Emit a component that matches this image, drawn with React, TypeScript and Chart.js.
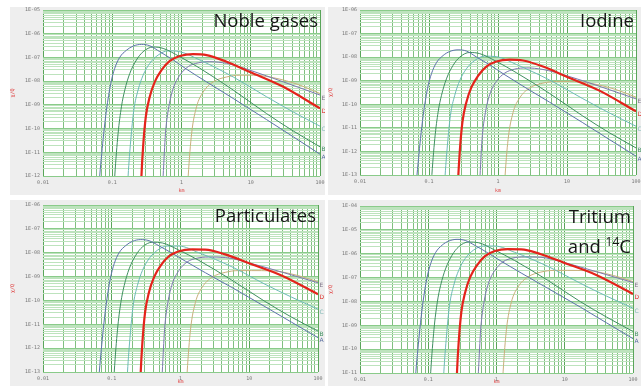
import { useEffect, useRef } from 'react';
import { Chart, registerables } from 'chart.js';

Chart.register(...registerables);

// ---- axis ticks ----
const xDecades = [0.01, 0.1, 1, 10, 100];
const xDecadeLabels = ['0.01', '0.1', '1', '10', '100'];

const nobleDecades = [1e-12, 1e-11, 1e-10, 1e-9, 1e-8, 1e-7, 1e-6, 1e-5];
const nobleDecadeLabels = ['1E-12', '1E-11', '1E-10', '1E-09', '1E-08', '1E-07', '1E-06', '1E-05'];
const iodineDecades = [1e-13, 1e-12, 1e-11, 1e-10, 1e-9, 1e-8, 1e-7, 1e-6];
const iodineDecadeLabels = ['1E-13', '1E-12', '1E-11', '1E-10', '1E-09', '1E-08', '1E-07', '1E-06'];
const partDecades = [1e-13, 1e-12, 1e-11, 1e-10, 1e-9, 1e-8, 1e-7, 1e-6];
const partDecadeLabels = ['1E-13', '1E-12', '1E-11', '1E-10', '1E-09', '1E-08', '1E-07', '1E-06'];
const tritDecades = [1e-11, 1e-10, 1e-9, 1e-8, 1e-7, 1e-6, 1e-5, 1e-4];
const tritDecadeLabels = ['1E-11', '1E-10', '1E-09', '1E-08', '1E-07', '1E-06', '1E-05', '1E-04'];

// ---- stability classes ----
const classNames = ['A', 'B', 'C', 'D', 'E', 'F'];
const labelShown = [true, true, true, true, true, false];

// distances (km) for each class curve
const xA = [0.0625, 0.0659, 0.0705, 0.0753, 0.0824, 0.0951, 0.1087, 0.128, 0.16, 0.2, 0.264, 0.348, 0.486, 0.758, 1.18, 2.3, 5.58, 16.9, 41.1, 100];
const xB = [0.104, 0.1087, 0.1214, 0.1357, 0.1517, 0.179, 0.2234, 0.279, 0.389, 0.543, 0.947, 1.84, 5.58, 16.9, 41.1, 100];
const xC = [0.163, 0.1694, 0.185, 0.2046, 0.236, 0.279, 0.348, 0.46, 0.641, 0.947, 1.84, 5.58, 16.9, 41.1, 100];
const xD = [0.257, 0.264, 0.279, 0.305, 0.348, 0.411, 0.514, 0.678, 0.947, 1.47, 2.3, 4.48, 9.73, 29.5, 100];
const xE = [0.52, 0.543, 0.587, 0.656, 0.758, 0.947, 1.25, 1.74, 2.57, 4.48, 9.73, 29.5, 100];
const xF = [1.2, 1.25, 1.4, 1.65, 2.06, 2.87, 4.48, 6.97, 10.9, 21.1, 51.4, 100];

// Noble gases
const nobleA = [1e-13, 1e-12, 8.7e-12, 6.2e-11, 5.9e-10, 7.9e-9, 3.5e-8, 1e-7, 2.0e-7, 3.0e-7, 3.55e-7, 3.1e-7, 1.74e-7, 7.8e-8, 3.2e-8, 9.3e-9, 1.86e-9, 2.4e-10, 4.5e-11, 8.3e-12];
const nobleB = [1e-13, 1e-12, 6.2e-11, 8.3e-10, 4.2e-9, 2.1e-8, 7.8e-8, 1.74e-7, 2.75e-7, 2.4e-7, 1.07e-7, 3.5e-8, 4.2e-9, 4.3e-10, 7.9e-11, 1.7e-11];
const nobleC = [1e-13, 1e-12, 3.2e-11, 5.9e-10, 4.2e-9, 1.78e-8, 5.6e-8, 1.26e-7, 1.9e-7, 1.74e-7, 7.8e-8, 1.5e-8, 2.2e-9, 5.0e-10, 1.26e-10];
const nobleD = [1e-13, 1e-12, 1.7e-11, 3.1e-10, 2.2e-9, 9.3e-9, 2.9e-8, 7.1e-8, 1.15e-7, 1.38e-7, 1.26e-7, 6.6e-8, 2.45e-8, 5.8e-9, 7.1e-10];
const nobleE = [1e-13, 1e-12, 6.2e-11, 8.3e-10, 4.9e-9, 1.78e-8, 4.1e-8, 5.9e-8, 6.6e-8, 5.6e-8, 2.9e-8, 9.3e-9, 2.6e-9];
const nobleF = [1e-13, 1e-12, 6.2e-11, 8.3e-10, 3.5e-9, 9.3e-9, 1.5e-8, 1.78e-8, 1.78e-8, 1.4e-8, 6.8e-9, 3.0e-9];

// Iodine
const iodineA = [1e-14, 5.8e-14, 5.0e-13, 3.5e-12, 3.4e-11, 4.6e-10, 2.0e-9, 5.8e-9, 1.17e-8, 1.74e-8, 2.04e-8, 1.82e-8, 1.02e-8, 4.7e-9, 2.0e-9, 5.9e-10, 1.23e-10, 1.66e-11, 3.2e-12, 6.3e-13];
const iodineB = [5.8e-15, 5.8e-14, 3.5e-12, 4.8e-11, 2.4e-10, 1.2e-9, 4.5e-9, 1e-8, 1.58e-8, 1.41e-8, 6.6e-9, 2.2e-9, 2.9e-10, 3.2e-11, 6.2e-12, 1.41e-12];
const iodineC = [5.8e-15, 5.8e-14, 1.86e-12, 3.4e-11, 2.4e-10, 1.02e-9, 3.2e-9, 7.2e-9, 1.1e-8, 1.05e-8, 4.9e-9, 1.07e-9, 1.74e-10, 4.3e-11, 1.17e-11];
const iodineD = [5.6e-15, 5.6e-14, 9.5e-13, 1.74e-11, 1.23e-10, 5.2e-10, 1.62e-9, 4.0e-9, 6.5e-9, 7.8e-9, 7.2e-9, 4.0e-9, 1.51e-9, 3.8e-10, 5.0e-11];
const iodineE = [5.2e-15, 5.2e-14, 3.2e-12, 4.4e-11, 2.57e-10, 9.3e-10, 2.1e-9, 3.1e-9, 3.5e-9, 3.0e-9, 1.66e-9, 5.8e-10, 1.7e-10];
const iodineF = [5.2e-15, 5.2e-14, 3.2e-12, 4.4e-11, 1.86e-10, 4.9e-10, 7.9e-10, 9.3e-10, 9.3e-10, 7.9e-10, 4.2e-10, 2.0e-10];

// Particulates
const partA = [1e-14, 1e-13, 8.7e-13, 6.2e-12, 5.9e-11, 7.9e-10, 3.5e-9, 1e-8, 2.0e-8, 3.0e-8, 3.55e-8, 3.2e-8, 1.95e-8, 9.5e-9, 4.4e-9, 1.45e-9, 3.5e-10, 5.5e-11, 1.23e-11, 2.75e-12];
const partB = [1e-14, 1e-13, 6.2e-12, 8.3e-11, 4.2e-10, 2.1e-9, 7.8e-9, 1.74e-8, 2.75e-8, 2.57e-8, 1.29e-8, 4.8e-9, 7.1e-10, 9.1e-11, 2.0e-11, 5.2e-12];
const partC = [1e-14, 1e-13, 3.2e-12, 5.9e-11, 4.2e-10, 1.78e-9, 5.6e-9, 1.26e-8, 1.9e-8, 1.9e-8, 1.0e-8, 2.57e-9, 4.8e-10, 1.38e-10, 4.3e-11];
const partD = [1e-14, 1e-13, 1.7e-12, 3.1e-11, 2.2e-10, 9.3e-10, 2.9e-9, 7.1e-9, 1.15e-8, 1.38e-8, 1.36e-8, 8.5e-9, 3.7e-9, 1.12e-9, 1.82e-10];
const partE = [1e-14, 1e-13, 6.2e-12, 8.3e-11, 4.9e-10, 1.78e-9, 4.1e-9, 5.9e-9, 6.6e-9, 6.3e-9, 3.8e-9, 1.55e-9, 5.5e-10];
const partF = [1e-14, 1e-13, 6.2e-12, 8.3e-11, 3.5e-10, 9.3e-10, 1.5e-9, 1.78e-9, 1.78e-9, 1.74e-9, 1.1e-9, 6.0e-10];

// Tritium and 14C
const tritA = [1.12e-12, 1.12e-11, 9.8e-11, 6.9e-10, 6.6e-9, 8.9e-8, 3.9e-7, 1.12e-6, 2.3e-6, 3.4e-6, 4.0e-6, 3.6e-6, 2.2e-6, 1.05e-6, 4.8e-7, 1.55e-7, 3.6e-8, 5.8e-9, 1.26e-9, 2.75e-10];
const tritB = [1.12e-12, 1.12e-11, 6.9e-10, 9.3e-9, 4.7e-8, 2.3e-7, 8.7e-7, 1.95e-6, 3.1e-6, 2.9e-6, 1.41e-6, 5.2e-7, 7.8e-8, 9.8e-9, 2.2e-9, 5.5e-10];
const tritC = [1.12e-12, 1.12e-11, 3.6e-10, 6.6e-9, 4.7e-8, 2.0e-7, 6.3e-7, 1.41e-6, 2.1e-6, 2.1e-6, 1.15e-6, 3.0e-7, 5.8e-8, 1.66e-8, 5.2e-9];
const tritD = [1.12e-12, 1.12e-11, 1.9e-10, 3.5e-9, 2.45e-8, 1.05e-7, 3.2e-7, 7.9e-7, 1.29e-6, 1.55e-6, 1.53e-6, 9.5e-7, 4.2e-7, 1.26e-7, 2.04e-8];
const tritE = [1.12e-12, 1.12e-11, 6.9e-10, 9.3e-9, 5.5e-8, 2.0e-7, 4.6e-7, 6.6e-7, 7.4e-7, 7.1e-7, 4.3e-7, 1.74e-7, 6.2e-8];
const tritF = [1.12e-12, 1.12e-11, 6.9e-10, 9.3e-9, 4.0e-8, 1.05e-7, 1.7e-7, 2.0e-7, 2.0e-7, 1.95e-7, 1.23e-7, 6.8e-8];

const xSeries = [xA, xB, xC, xD, xE, xF];

// ---- styles ----
const lineColors = ['#5d72aa', '#3f8f60', '#6cbab6', '#e4231b', '#7c78ae', '#c9b07c'];
const letterColors = ['#5a6ea0', '#3f8f5f', '#7fb8b5', '#e0302a', '#7f7488', '#c9b07c'];
const panelBg = '#eeeeee';
const vMajor = '#5aa55a';
const vMinor = '#80bf80';
const hMajor = '#8acb8a';
const hMinor = '#bde3bd';
const tickFont = 'DejaVu Sans Mono';
const titleFamily = "'Open Sans', 'Noto Sans', sans-serif";

type Seg = { t: string; sup?: boolean };
type PanelCfg = {
  left: number; top: number; width: number; height: number;
  area: { l: number; t: number; r: number; b: number };
  decades: number[]; decadeLabels: string[];
  series: number[][];
  title: Seg[][];
  yTitle: string;
};

const panels: PanelCfg[] = [
  {
    left: 10, top: 7, width: 315, height: 188,
    area: { l: 33, t: 3, r: 310, b: 169 },
    decades: nobleDecades, decadeLabels: nobleDecadeLabels,
    series: [nobleA, nobleB, nobleC, nobleD, nobleE, nobleF],
    title: [[{ t: 'Noble gases' }]],
    yTitle: 'χ/Q',
  },
  {
    left: 328, top: 7, width: 313, height: 188,
    area: { l: 32, t: 3, r: 308, b: 168 },
    decades: iodineDecades, decadeLabels: iodineDecadeLabels,
    series: [iodineA, iodineB, iodineC, iodineD, iodineE, iodineF],
    title: [[{ t: 'Iodine' }]],
    yTitle: 'χ/Q',
  },
  {
    left: 10, top: 200, width: 315, height: 186,
    area: { l: 33, t: 5, r: 308, b: 172 },
    decades: partDecades, decadeLabels: partDecadeLabels,
    series: [partA, partB, partC, partD, partE, partF],
    title: [[{ t: 'Particulates' }]],
    yTitle: 'χ/Q',
  },
  {
    left: 328, top: 200, width: 313, height: 186,
    area: { l: 32, t: 6, r: 305, b: 173 },
    decades: tritDecades, decadeLabels: tritDecadeLabels,
    series: [tritA, tritB, tritC, tritD, tritE, tritF],
    title: [[{ t: 'Tritium' }], [{ t: 'and ' }, { t: '14', sup: true }, { t: 'C' }]],
    yTitle: 'χ/Q',
  },
];

function buildTicks(decades: number[], labels: string[]) {
  const out: any[] = [];
  decades.forEach((d, i) => {
    out.push({ value: d, major: true, lbl: labels[i] });
    if (i < decades.length - 1) {
      for (let m = 2; m <= 9; m++) out.push({ value: d * m, major: false, lbl: '' });
    }
  });
  return out;
}

function Panel({ cfg }: { cfg: PanelCfg }) {
  const ref = useRef<HTMLCanvasElement>(null);
  useEffect(() => {
    const canvas = ref.current;
    if (!canvas) return;
    const datasets = xSeries.map((xs, k) => ({
      label: classNames[k],
      tag: labelShown[k] ? classNames[k] : '',
      data: xs.map((x, i) => ({ x, y: cfg.series[k][i] })),
      borderColor: lineColors[k],
      borderWidth: k === 3 ? 2.2 : 1,
      pointRadius: 0,
      cubicInterpolationMode: 'monotone',
      fill: false,
      order: k === 3 ? -1 : k,
    }));

    const bgPlugin = {
      id: 'bg',
      beforeDraw(chart: any) {
        const { ctx, chartArea: a } = chart;
        ctx.save();
        ctx.fillStyle = panelBg;
        ctx.fillRect(0, 0, chart.width, chart.height);
        ctx.fillStyle = '#ffffff';
        ctx.fillRect(a.left, a.top, a.right - a.left, a.bottom - a.top);
        ctx.restore();
      },
    };

    const labelPlugin = {
      id: 'labels',
      afterDatasetsDraw(chart: any) {
        const ctx = chart.ctx;
        ctx.save();
        ctx.font = '6px "DejaVu Sans"';
        ctx.textBaseline = 'middle';
        ctx.textAlign = 'left';
        chart.data.datasets.forEach((ds: any, i: number) => {
          if (!ds.tag) return;
          const meta = chart.getDatasetMeta(i);
          const pt = meta.data[meta.data.length - 1];
          ctx.fillStyle = letterColors[i];
          ctx.fillText(ds.tag, pt.x + 1.5, pt.y + 3);
        });
        ctx.restore();
      },
      afterDraw(chart: any) {
        const ctx = chart.ctx;
        const a = chart.chartArea;
        ctx.save();
        ctx.fillStyle = '#151515';
        ctx.textBaseline = 'alphabetic';
        ctx.textAlign = 'left';
        cfg.title.forEach((line, li) => {
          const fonts = line.map((s) => (s.sup ? `12px ${titleFamily}` : `18.5px ${titleFamily}`));
          const widths = line.map((s, si) => {
            ctx.font = fonts[si];
            return ctx.measureText(s.t).width;
          });
          const total = widths.reduce((p, w) => p + w, 0);
          let x = a.right - 2 - total;
          const y = a.top + 17 + li * 30;
          line.forEach((s, si) => {
            ctx.font = fonts[si];
            ctx.fillText(s.t, x, s.sup ? y - 7 : y);
            x += widths[si];
          });
        });
        ctx.restore();
      },
    };

    const { l, t, r, b } = cfg.area;
    const W = cfg.width;
    const H = cfg.height;

    const chart = new Chart(canvas, {
      type: 'line',
      data: { datasets: datasets as any },
      options: {
        responsive: false,
        animation: false,
        devicePixelRatio: 1,
        events: [],
        layout: { padding: { left: 0, top: t, right: W - r, bottom: 0 } },
        plugins: { legend: { display: false }, tooltip: { enabled: false } },
        scales: {
          x: {
            type: 'logarithmic',
            min: 0.01,
            max: 100,
            afterBuildTicks: (s: any) => { s.ticks = buildTicks(xDecades, xDecadeLabels); },
            afterFit: (s: any) => {
              s.height = H - b;
              s.paddingLeft = 0; s.paddingRight = 0; s.paddingTop = 0; s.paddingBottom = 0;
            },
            ticks: {
              autoSkip: false, maxRotation: 0, minRotation: 0, padding: 4,
              color: '#777777',
              font: { family: tickFont, size: 5 },
              callback: (_v: any, i: number, ticks: any[]) => ticks[i].lbl,
            },
            grid: {
              drawTicks: false,
              lineWidth: 1,
              color: (c: any) => (c.tick && c.tick.major ? vMajor : vMinor),
            },
            border: { display: false },
            title: {
              display: true, text: 'km', color: '#e04040',
              font: { family: tickFont, size: 5 },
              padding: { top: 0, bottom: 1 },
            },
          },
          y: {
            type: 'logarithmic',
            min: cfg.decades[0],
            max: cfg.decades[cfg.decades.length - 1],
            afterBuildTicks: (s: any) => { s.ticks = buildTicks(cfg.decades, cfg.decadeLabels); },
            afterFit: (s: any) => {
              s.width = l;
              s.paddingLeft = 0; s.paddingRight = 0; s.paddingTop = 0; s.paddingBottom = 0;
            },
            ticks: {
              autoSkip: false, padding: 3,
              color: '#777777',
              font: { family: tickFont, size: 5 },
              callback: (_v: any, i: number, ticks: any[]) => ticks[i].lbl,
            },
            grid: {
              drawTicks: false,
              lineWidth: 1,
              color: (c: any) => (c.tick && c.tick.major ? hMajor : hMinor),
            },
            border: { display: false },
            title: {
              display: true, text: cfg.yTitle, color: '#e04040',
              font: { family: tickFont, size: 5 },
              padding: { top: 0, bottom: 0 },
            },
          },
        },
      } as any,
      plugins: [bgPlugin, labelPlugin],
    });
    return () => chart.destroy();
  }, [cfg]);

  return (
    <canvas
      ref={ref}
      width={cfg.width}
      height={cfg.height}
      style={{ position: 'absolute', left: cfg.left, top: cfg.top, width: cfg.width, height: cfg.height }}
    />
  );
}

export default function App() {
  return (
    <div
      style={{
        position: 'fixed', left: 0, top: 0, width: 641, height: 386,
        background: '#ffffff', overflow: 'hidden',
      }}
    >
      {panels.map((p, i) => (
        <Panel key={i} cfg={p} />
      ))}
    </div>
  );
}
